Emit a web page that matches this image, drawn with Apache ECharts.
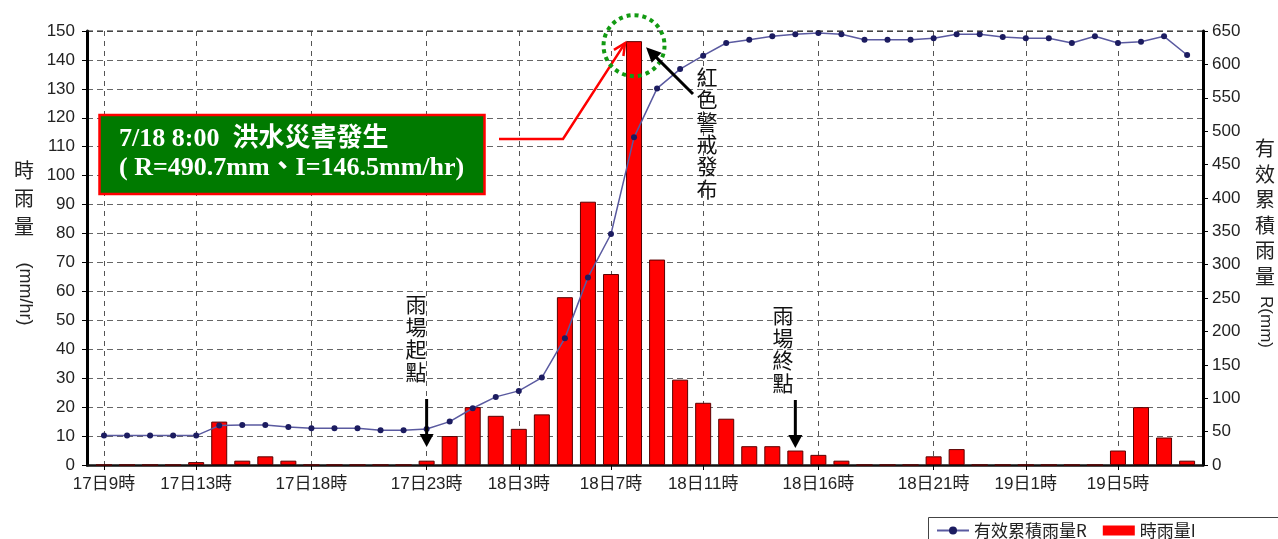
<!DOCTYPE html>
<html><head><meta charset="utf-8">
<script src="https://cdn.jsdelivr.net/npm/echarts@6/dist/echarts.min.js"></script>
<style>html,body{margin:0;padding:0;background:#fff}#c{width:1278px;height:539px}</style>
</head><body><div id="c"></div>
<script>
// hourly categories (17日9時 .. 19日8時)
const hours = ['17日9時','17日10時','17日11時','17日12時','17日13時','17日14時','17日15時','17日16時','17日17時','17日18時','17日19時','17日20時','17日21時','17日22時','17日23時','18日0時','18日1時','18日2時','18日3時','18日4時','18日5時','18日6時','18日7時','18日8時','18日9時','18日10時','18日11時','18日12時','18日13時','18日14時','18日15時','18日16時','18日17時','18日18時','18日19時','18日20時','18日21時','18日22時','18日23時','19日0時','19日1時','19日2時','19日3時','19日4時','19日5時','19日6時','19日7時','19日8時'];
const tickLabels = ['17日9時','17日13時','17日18時','17日23時','18日3時','18日7時','18日11時','18日16時','18日21時','19日1時','19日5時'];
// 時雨量 I (mm/hr)
const rainI = [0,0,0,0,1,15,1.5,3,1.5,0,0,0,0,0,1.5,10,20,17,12.5,17.5,58,91,66,146.5,71,29.5,21.5,16,6.5,6.5,5,3.5,1.5,0,0,0,3,5.5,0,0,0,0,0,0,5,20,9.5,1.5];
// 有效累積雨量 R (mm)
const cumR = [44,44,44,44,44,59,60,60,57,55,55,55,52,52,54,65,85,102,111,131,190,281,346,490.7,564,593,613,632,637,642,645,647,645,637,637,637,639,645,645,641,639,639,632,642,632,634,642,614];
const leftTickValues = [0,150,10];
const rightTickValues = [0,650,50];
const rainStartLabel = '17日23時';
const rainEndLabel = '18日15時';

const tickIdx = tickLabels.map(l => hours.indexOf(l));
const chart = echarts.init(document.getElementById('c'), null, {renderer:'canvas'});
const fontNum = "'Liberation Sans', Arial, 'Noto Sans CJK TC', sans-serif";
const option = {
  animation:false,
  backgroundColor:'#fff',
  grid:{left:87, right:75, top:31, bottom:74, containLabel:false},
  legend:{
    left:928, top:516,
    data:[{name:'有效累積雨量R'},{name:'時雨量I', icon:'rect', itemStyle:{borderWidth:0}}],
    itemWidth:32, itemHeight:10, itemGap:16,
    padding:[6, 8, 6, 8],
    textStyle:{fontSize:17, color:'#222', fontFamily:"'Noto Sans CJK TC', sans-serif"}
  },
  xAxis:{
    type:'value', min:-0.738, max:47.69,
    axisLine:{show:true, onZero:false, lineStyle:{color:'#111', width:2.5}},
    axisTick:{show:true, customValues:tickIdx, length:5, lineStyle:{color:'#000', width:1}},
    axisLabel:{customValues:tickIdx, formatter:v => hours[Math.round(v)], color:'#222', fontSize:17, margin:11, fontFamily:fontNum},
    splitLine:{show:true, lineStyle:{color:'#555', type:[5,5], width:1}}
  },
  yAxis:[
    {type:'value', min:leftTickValues[0], max:leftTickValues[1], interval:leftTickValues[2], position:'left',
     axisLine:{show:true, onZero:false, lineStyle:{color:'#000', width:3}},
     axisTick:{show:true, length:5, lineStyle:{color:'#000'}},
     axisLabel:{color:'#222', fontSize:17, margin:12, fontFamily:fontNum},
     splitLine:{show:true, lineStyle:{color:'#666', type:[6,4], width:1}}},
    {type:'value', min:rightTickValues[0], max:rightTickValues[1], interval:rightTickValues[2], position:'right',
     axisLine:{show:true, onZero:false, lineStyle:{color:'#000', width:3}},
     axisTick:{show:true, length:5, lineStyle:{color:'#000'}},
     axisLabel:{color:'#222', fontSize:17, margin:9, fontFamily:fontNum},
     splitLine:{show:false}}
  ],
  series:[
    {name:'有效累積雨量R', type:'line', yAxisIndex:1, z:4,
     data:cumR.map((v,i)=>[i,v]), symbol:'circle', symbolSize:6,
     lineStyle:{color:'#5a5aa0', width:1.5}, itemStyle:{color:'#1c1c60'}},
    {name:'時雨量I', type:'bar', yAxisIndex:0, z:2,
     data:rainI.map((v,i)=>[i,v]), barWidth:16,
     itemStyle:{color:'#ff0000', borderColor:'#5a0000', borderWidth:1}}
  ]
};
chart.setOption(option);

const px = (x,y,ax) => chart.convertToPixel({xAxisIndex:0, yAxisIndex:ax}, [x,y]);
const peakIdx = rainI.indexOf(Math.max(...rainI));
const peak = px(peakIdx, rainI[peakIdx], 0);
const zero = px(0,0,0);
const top150 = px(0,leftTickValues[1],0);
const xL = px(option.xAxis.min,0,0)[0], xR = px(option.xAxis.max,0,0)[0];
const startX = px(hours.indexOf(rainStartLabel),0,0)[0];
const endX = px(hours.indexOf(rainEndLabel),0,0)[0];

function arrowHead(tip, from, len, half, fill){
  const dx = tip[0]-from[0], dy = tip[1]-from[1];
  const d = Math.hypot(dx,dy), ux = dx/d, uy = dy/d;
  const bx = tip[0]-ux*len, by = tip[1]-uy*len;
  return {type:'polygon', shape:{points:[tip,[bx-uy*half, by+ux*half],[bx+uy*half, by-ux*half]]}, style:{fill:fill}, z:20};
}
function chevron(tip, from, len, ang, color){
  const a = Math.atan2(from[1]-tip[1], from[0]-tip[0]);
  const p1 = [tip[0]+len*Math.cos(a+ang), tip[1]+len*Math.sin(a+ang)];
  const p2 = [tip[0]+len*Math.cos(a-ang), tip[1]+len*Math.sin(a-ang)];
  return {type:'polyline', shape:{points:[p1,tip,p2]}, style:{stroke:color, lineWidth:2.5, fill:null}, z:20};
}
const vText = (s) => s.split('').join('\n');
const cjk = "'Noto Sans CJK TC', sans-serif";
const serif = "'Liberation Serif', 'Noto Sans CJK TC', serif";

const redTip = [peak[0]-9, peak[1]+2];
const redBend = [563, 139];
const blkTip = [peak[0]+12, peak[1]+6];
const blkTail = [693, 94];
const sTip = [startX, zero[1]-18], sTail = [startX, zero[1]-66];
const eTip = [endX, zero[1]-17], eTail = [endX, zero[1]-65];

const graphics = [
  // legend frame (extends past the page edge)
  {type:'rect', shape:{x:928.5, y:517.5, width:400, height:60}, style:{fill:null, stroke:'#444', lineWidth:1}, z:1},
  // darker top border (dashed)
  {type:'line', shape:{x1:xL, y1:top150[1], x2:xR, y2:top150[1]}, style:{stroke:'#222', lineWidth:1.2, lineDash:[6,4]}, z:5},
  // axis names
  {type:'text', x:24, y:156, style:{text:vText('時雨量'), fontSize:20, lineHeight:28, fill:'#222', fontFamily:cjk, align:'center', verticalAlign:'top'}, z:20},
  {type:'text', x:25, y:294, rotation:-Math.PI/2, style:{text:'(mm/hr)', fontSize:18, fill:'#222', fontFamily:fontNum, align:'center', verticalAlign:'middle'}, z:20},
  {type:'text', x:1265, y:136, style:{text:vText('有效累積雨量'), fontSize:20, lineHeight:25.5, fill:'#222', fontFamily:cjk, align:'center', verticalAlign:'top'}, z:20},
  {type:'text', x:1266, y:322, rotation:-Math.PI/2, style:{text:'R(mm)', fontSize:17, fill:'#222', fontFamily:fontNum, align:'center', verticalAlign:'middle'}, z:20},
  // green box
  {type:'rect', shape:{x:99.5, y:115, width:385, height:79}, style:{fill:'#007a00', stroke:'#ff0000', lineWidth:2.5}, z:15},
  {type:'text', x:119, y:139, style:{text:'7/18 8:00  洪水災害發生', fill:'#fff', fontSize:26, fontWeight:'bold', fontFamily:serif, verticalAlign:'middle'}, z:16},
  {type:'text', x:119, y:168, style:{text:'( R=490.7mm、I=146.5mm/hr)', fill:'#fff', fontSize:26, fontWeight:'bold', fontFamily:serif, verticalAlign:'middle'}, z:16},
  // red pointer line
  {type:'polyline', shape:{points:[[499,139], redBend, redTip]}, style:{stroke:'#ff0000', lineWidth:2.5, fill:null}, z:20},
  chevron(redTip, redBend, 13, 0.45, '#ff0000'),
  // green dotted circle
  {type:'circle', shape:{cx:peak[0], cy:peak[1]+4.5, r:30.5}, style:{fill:null, stroke:'#129a12', lineWidth:4, lineDash:[4,4]}, z:20},
  // black warning arrow
  {type:'line', shape:{x1:blkTail[0], y1:blkTail[1], x2:blkTip[0]+8, y2:blkTip[1]+8}, style:{stroke:'#000', lineWidth:3}, z:20},
  arrowHead(blkTip, blkTail, 15, 7, '#000'),
  {type:'text', x:707, y:66, style:{text:vText('紅色警戒發布'), fontSize:21, lineHeight:22.3, fill:'#111', fontFamily:cjk, align:'center', verticalAlign:'top'}, z:20},
  // rain start
  {type:'text', x:416, y:293, style:{text:vText('雨場起點'), fontSize:21, lineHeight:22.5, fill:'#111', fontFamily:cjk, align:'center', verticalAlign:'top'}, z:20},
  {type:'line', shape:{x1:sTail[0], y1:sTail[1], x2:sTip[0], y2:sTip[1]-10}, style:{stroke:'#000', lineWidth:3}, z:20},
  arrowHead(sTip, sTail, 13, 7, '#000'),
  // rain end
  {type:'text', x:783, y:304, style:{text:vText('雨場終點'), fontSize:21, lineHeight:22.5, fill:'#111', fontFamily:cjk, align:'center', verticalAlign:'top'}, z:20},
  {type:'line', shape:{x1:eTail[0], y1:eTail[1], x2:eTip[0], y2:eTip[1]-10}, style:{stroke:'#000', lineWidth:3}, z:20},
  arrowHead(eTip, eTail, 13, 7, '#000')
];
chart.setOption({graphic:graphics});
</script>
</body></html>
